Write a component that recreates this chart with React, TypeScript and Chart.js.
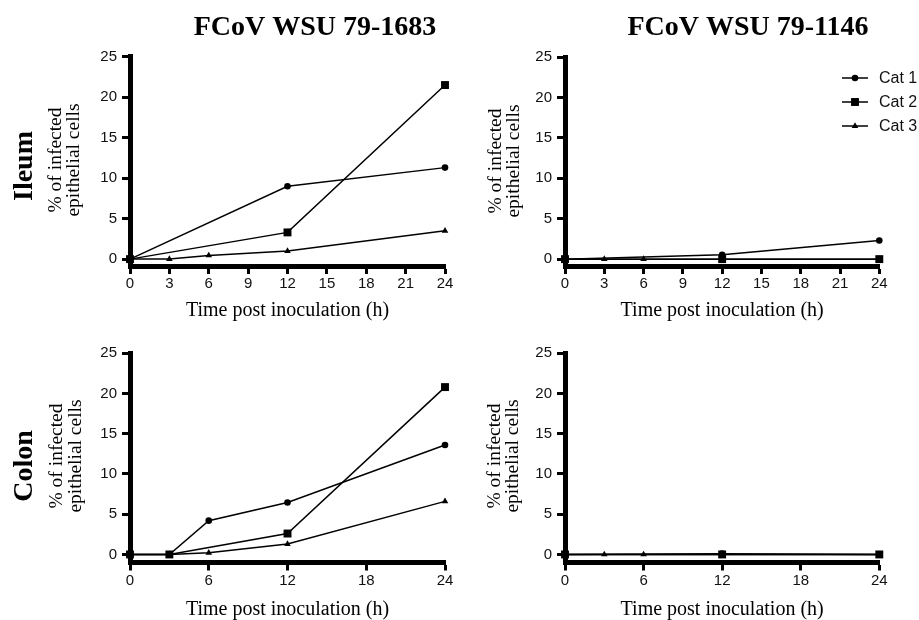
import React, { useEffect, useRef } from "react";
import { Chart, registerables } from "chart.js";

Chart.register(...registerables);

// ---------- data ----------
const SERIES_NAMES = ["Cat 1", "Cat 2", "Cat 3"];
const COLUMN_TITLES = ["FCoV WSU 79-1683", "FCoV WSU 79-1146"];
const ROW_LABELS = ["Ileum", "Colon"];
const Y_TITLE_LINES = ["% of infected", "epithelial cells"];
const X_TITLE = "Time post inoculation (h)";
const Y_TICKS = [0, 5, 10, 15, 20, 25];
const X_TICKS_ILEUM = [0, 3, 6, 9, 12, 15, 18, 21, 24];
const X_TICKS_COLON = [0, 6, 12, 18, 24];

// Ileum, FCoV WSU 79-1683
const ileumA_cat1Hours = [0, 12, 24];
const ileumA_cat1Values = [0, 9.0, 11.3];
const ileumA_cat2Hours = [0, 12, 24];
const ileumA_cat2Values = [0, 3.3, 21.5];
const ileumA_cat3Hours = [0, 3, 6, 12, 24];
const ileumA_cat3Values = [0, 0, 0.45, 1.0, 3.5];

// Ileum, FCoV WSU 79-1146
const ileumB_cat1Hours = [0, 12, 24];
const ileumB_cat1Values = [0, 0.55, 2.3];
const ileumB_cat2Hours = [0, 12, 24];
const ileumB_cat2Values = [0, 0, 0];
const ileumB_cat3Hours = [0, 3, 6, 12, 24];
const ileumB_cat3Values = [0, 0, 0, 0, 0];

// Colon, FCoV WSU 79-1683
const colonA_cat1Hours = [0, 3, 6, 12, 24];
const colonA_cat1Values = [0, 0, 4.2, 6.45, 13.6];
const colonA_cat2Hours = [0, 3, 12, 24];
const colonA_cat2Values = [0, 0, 2.6, 20.8];
const colonA_cat3Hours = [0, 3, 6, 12, 24];
const colonA_cat3Values = [0, 0, 0.2, 1.3, 6.6];

// Colon, FCoV WSU 79-1146
const colonB_cat1Hours = [0, 12, 24];
const colonB_cat1Values = [0, 0.1, 0];
const colonB_cat2Hours = [0, 12, 24];
const colonB_cat2Values = [0, 0, 0];
const colonB_cat3Hours = [0, 3, 6, 12, 24];
const colonB_cat3Values = [0, 0, 0, 0, 0];

// ---------- styling ----------
const SERIF = '"Liberation Serif", "Times New Roman", serif';
const SANS = '"Liberation Sans", Arial, sans-serif';
const POINT_STYLES = ["circle", "rect", "triangle"];
const POINT_RADII = [3.3, 5.6, 3.8];
const DRAW_ORDER = [1, 0, 2];

type PanelCfg = {
  left: number;
  top: number;
  width: number;
  height: number;
  area: { l: number; r: number; t: number; b: number };
  yMin: number;
  xTicks: number[];
  series: { hours: number[]; values: number[] }[];
  header?: string;
  headerX?: number;
  rowLabel?: string;
  rowX?: number;
  rowY?: number;
  yTitleBase: number[];
  yTitleCenter: number;
  xTitleBase: number;
  legend?: boolean;
};

function drawMarker(ctx: CanvasRenderingContext2D, style: string, x: number, y: number, r: number) {
  ctx.beginPath();
  if (style === "circle") {
    ctx.arc(x, y, r, 0, Math.PI * 2);
  } else if (style === "rect") {
    const s = Math.SQRT1_2 * r;
    ctx.rect(x - s, y - s, 2 * s, 2 * s);
  } else {
    const a = Math.PI / 6;
    ctx.moveTo(x, y - r);
    ctx.lineTo(x + Math.cos(a) * r, y + Math.sin(a) * r);
    ctx.lineTo(x - Math.cos(a) * r, y + Math.sin(a) * r);
    ctx.closePath();
  }
  ctx.fill();
}

const panelTextPlugin = {
  id: "panelText",
  afterDraw(chart: any, _args: any, opts: any) {
    const { ctx, chartArea } = chart;
    const cfg: PanelCfg = opts.cfg;
    if (!cfg) return;
    ctx.save();
    ctx.fillStyle = "#000";
    ctx.textBaseline = "alphabetic";
    // column header
    if (cfg.header) {
      ctx.font = `bold 28px ${SERIF}`;
      ctx.textAlign = "center";
      ctx.fillText(cfg.header, cfg.headerX, 35);
    }
    // row label
    if (cfg.rowLabel) {
      ctx.save();
      ctx.translate(0, cfg.rowY);
      ctx.rotate(-Math.PI / 2);
      ctx.font = `bold 28px ${SERIF}`;
      ctx.textAlign = "center";
      ctx.fillText(cfg.rowLabel, 0, cfg.rowX);
      ctx.restore();
    }
    // y title
    ctx.save();
    ctx.translate(0, cfg.yTitleCenter);
    ctx.rotate(-Math.PI / 2);
    ctx.font = `19.5px ${SERIF}`;
    ctx.textAlign = "center";
    Y_TITLE_LINES.forEach((line, i) => ctx.fillText(line, 0, cfg.yTitleBase[i]));
    ctx.restore();
    // x title
    ctx.font = `20px ${SERIF}`;
    ctx.textAlign = "center";
    ctx.fillText(X_TITLE, (chartArea.left + chartArea.right) / 2, cfg.xTitleBase);
    // legend
    if (cfg.legend) {
      const rows = [78, 102, 126];
      SERIES_NAMES.forEach((name, i) => {
        const y = rows[i];
        ctx.strokeStyle = "#000";
        ctx.lineWidth = 1.5;
        ctx.beginPath();
        ctx.moveTo(382, y);
        ctx.lineTo(408, y);
        ctx.stroke();
        drawMarker(ctx, POINT_STYLES[i], 395, y, POINT_RADII[i]);
        ctx.font = `16px ${SANS}`;
        ctx.textAlign = "left";
        ctx.textBaseline = "middle";
        ctx.fillStyle = "#111";
        ctx.fillText(name, 419, y + 1);
        ctx.fillStyle = "#000";
      });
    }
    ctx.restore();
  },
};

const PANELS: PanelCfg[] = [
  {
    left: 0, top: 0, width: 460, height: 330,
    area: { l: 130, r: 445, t: 56.7, b: 266 },
    yMin: -0.85,
    xTicks: X_TICKS_ILEUM,
    series: [
      { hours: ileumA_cat1Hours, values: ileumA_cat1Values },
      { hours: ileumA_cat2Hours, values: ileumA_cat2Values },
      { hours: ileumA_cat3Hours, values: ileumA_cat3Values },
    ],
    header: COLUMN_TITLES[0], headerX: 315,
    rowLabel: ROW_LABELS[0], rowX: 32, rowY: 166,
    yTitleBase: [61, 79], yTitleCenter: 160,
    xTitleBase: 316,
  },
  {
    left: 460, top: 0, width: 459, height: 330,
    area: { l: 105, r: 419.3, t: 57, b: 266 },
    yMin: -0.85,
    xTicks: X_TICKS_ILEUM,
    series: [
      { hours: ileumB_cat1Hours, values: ileumB_cat1Values },
      { hours: ileumB_cat2Hours, values: ileumB_cat2Values },
      { hours: ileumB_cat3Hours, values: ileumB_cat3Values },
    ],
    header: COLUMN_TITLES[1], headerX: 288,
    yTitleBase: [41, 59], yTitleCenter: 161,
    xTitleBase: 316,
    legend: true,
  },
  {
    left: 0, top: 310, width: 460, height: 310,
    area: { l: 130, r: 445, t: 43.3, b: 252.5 },
    yMin: -1,
    xTicks: X_TICKS_COLON,
    series: [
      { hours: colonA_cat1Hours, values: colonA_cat1Values },
      { hours: colonA_cat2Hours, values: colonA_cat2Values },
      { hours: colonA_cat3Hours, values: colonA_cat3Values },
    ],
    rowLabel: ROW_LABELS[1], rowX: 32, rowY: 156,
    yTitleBase: [62, 81], yTitleCenter: 146,
    xTitleBase: 305,
  },
  {
    left: 460, top: 310, width: 459, height: 310,
    area: { l: 105, r: 419.3, t: 43.3, b: 252.5 },
    yMin: -1,
    xTicks: X_TICKS_COLON,
    series: [
      { hours: colonB_cat1Hours, values: colonB_cat1Values },
      { hours: colonB_cat2Hours, values: colonB_cat2Values },
      { hours: colonB_cat3Hours, values: colonB_cat3Values },
    ],
    yTitleBase: [40, 58], yTitleCenter: 146,
    xTitleBase: 305,
  },
];

function Panel({ cfg }: { cfg: PanelCfg }) {
  const ref = useRef<HTMLCanvasElement | null>(null);
  useEffect(() => {
    if (!ref.current) return;
    const tickFont = { family: SANS, size: 15 };
    const chart = new Chart(ref.current, {
      type: "line",
      data: {
        datasets: cfg.series.map((s, i) => ({
          label: SERIES_NAMES[i],
          data: s.hours.map((h, j) => ({ x: h, y: s.values[j] })),
          borderColor: "#000",
          backgroundColor: "#000",
          borderWidth: 1.5,
          pointStyle: POINT_STYLES[i] as any,
          pointRadius: POINT_RADII[i],
          pointBorderWidth: 0,
          pointBackgroundColor: "#000",
          tension: 0,
          clip: false as any,
          order: DRAW_ORDER[i],
        })),
      },
      options: {
        animation: false,
        responsive: true,
        maintainAspectRatio: false,
        devicePixelRatio: 1,
        layout: {
          padding: {
            left: 0,
            top: cfg.area.t,
            right: cfg.width - cfg.area.r,
            bottom: 0,
          },
        },
        plugins: {
          legend: { display: false },
          tooltip: { enabled: false },
          title: { display: false },
          panelText: { cfg } as any,
        } as any,
        scales: {
          x: {
            type: "linear",
            min: 0,
            max: 24,
            afterBuildTicks: (s: any) => {
              s.ticks = cfg.xTicks.map((v) => ({ value: v }));
            },
            afterFit: (s: any) => {
              s.height = cfg.height - cfg.area.b;
            },
            grid: {
              display: true,
              drawOnChartArea: false,
              drawTicks: true,
              tickLength: 8,
              tickWidth: 3,
              tickColor: "#000",
            },
            border: { display: true, width: 5, color: "#000" },
            ticks: {
              font: tickFont,
              color: "#111",
              padding: 1,
              maxRotation: 0,
              autoSkip: false,
            },
          },
          y: {
            type: "linear",
            min: cfg.yMin,
            max: 25,
            afterBuildTicks: (s: any) => {
              s.ticks = Y_TICKS.map((v) => ({ value: v }));
            },
            afterFit: (s: any) => {
              s.width = cfg.area.l;
            },
            grid: {
              display: true,
              drawOnChartArea: false,
              drawTicks: true,
              tickLength: 8,
              tickWidth: 3,
              tickColor: "#000",
            },
            border: { display: true, width: 5, color: "#000" },
            ticks: {
              font: tickFont,
              color: "#111",
              padding: 5,
              autoSkip: false,
            },
          },
        },
      },
      plugins: [panelTextPlugin as any],
    });
    return () => chart.destroy();
  }, [cfg]);
  return (
    <div
      style={{
        position: "absolute",
        left: cfg.left,
        top: cfg.top,
        width: cfg.width,
        height: cfg.height,
      }}
    >
      <canvas ref={ref} />
    </div>
  );
}

export default function App() {
  return (
    <div
      style={{
        position: "absolute",
        left: 0,
        top: 0,
        width: 919,
        height: 620,
        background: "#fff",
        overflow: "hidden",
      }}
    >
      {PANELS.map((p, i) => (
        <Panel key={i} cfg={p} />
      ))}
    </div>
  );
}
